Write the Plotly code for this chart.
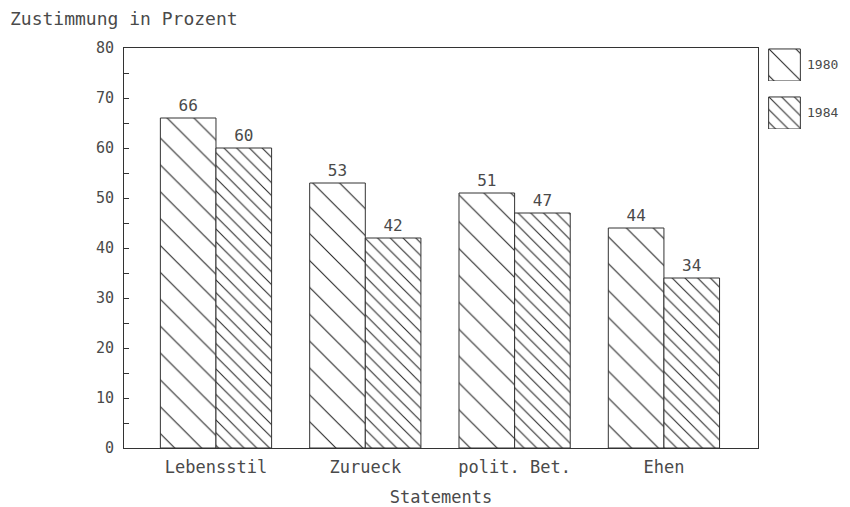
import plotly.graph_objects as go

categories = ["Lebensstil", "Zurueck", "polit. Bet.", "Ehen"]
series_names = ["1980", "1984"]
values_1980 = [66, 53, 51, 44]
values_1984 = [60, 42, 47, 34]
y_ticks = [0, 10, 20, 30, 40, 50, 60, 70, 80]

FONT = "DejaVu Sans Mono"
TXT = "#4a4a4a"
LINE = "#333333"

pat_1980 = dict(shape="\\", size=19, solidity=0.06, fgcolor="#2a2a2a", bgcolor="white", fillmode="replace")
pat_1984 = dict(shape="\\", size=9, solidity=0.12, fgcolor="#2a2a2a", bgcolor="white", fillmode="replace")

fig = go.Figure()
for name, vals, pat in [(series_names[0], values_1980, pat_1980), (series_names[1], values_1984, pat_1984)]:
    fig.add_trace(go.Bar(
        x=categories, y=vals, name=name, text=[str(v) for v in vals],
        textposition="outside", cliponaxis=False,
        textfont=dict(family=FONT, size=16, color=TXT),
        marker=dict(color="white", line=dict(color=LINE, width=1), pattern=pat),
        showlegend=False,
    ))

# legend swatches drawn as single bars in small axes
for i, (name, pat) in enumerate([(series_names[0], pat_1980), (series_names[1], pat_1984)]):
    ax = i + 2
    fig.add_trace(go.Bar(
        x=[0], y=[1], width=[1], xaxis=f"x{ax}", yaxis=f"y{ax}",
        marker=dict(color="white", line=dict(color=LINE, width=1), pattern=pat),
        showlegend=False, hoverinfo="skip",
    ))

OFF = 8  # page body margin
W, H = 850 - OFF, 507 - OFF
L, R, T, B = 124 - OFF, 4, 48 - OFF, 59
pw = W - L - R
ph = H - T - B

def px_x(p):
    return min(1.0, max(0.0, (p - OFF - L) / pw))

def px_y(p):
    return min(1.0, max(0.0, 1 - (p - OFF - T) / ph))

fig.update_layout(
    template="none",
    width=W, height=H,
    margin=dict(l=L, r=R, t=T, b=B, autoexpand=False),
    paper_bgcolor="white", plot_bgcolor="white",
    barmode="group", bargap=0.255, bargroupgap=0,
    font=dict(family=FONT, color=TXT),
    xaxis=dict(
        domain=[0, px_x(758)], range=[-0.616, 3.63], automargin=False,
        showline=True, linecolor=LINE, linewidth=1, mirror=True,
        ticks="", showgrid=False, zeroline=False, ticklabelstandoff=4,
        tickfont=dict(family=FONT, size=17, color=TXT),
        title=dict(text="Statements", font=dict(family=FONT, size=17, color=TXT), standoff=16),
    ),
    yaxis=dict(
        range=[0, 80], tickvals=y_ticks, automargin=False,
        showline=True, linecolor=LINE, linewidth=1, mirror=True,
        ticks="inside", ticklen=5, tickcolor=LINE, ticklabelstandoff=6,
        minor=dict(dtick=5, ticks="inside", ticklen=5, tickcolor=LINE),
        showgrid=False, zeroline=False,
        tickfont=dict(family=FONT, size=15, color=TXT),
    ),
    xaxis2=dict(domain=[px_x(768), px_x(801)], range=[-0.52, 0.52], anchor="y2", visible=False, fixedrange=True),
    yaxis2=dict(domain=[px_y(81), px_y(48)], range=[0, 1.03], anchor="x2", visible=False, fixedrange=True),
    xaxis3=dict(domain=[px_x(768), px_x(801)], range=[-0.52, 0.52], anchor="y3", visible=False, fixedrange=True),
    yaxis3=dict(domain=[px_y(129), px_y(96)], range=[0, 1.03], anchor="x3", visible=False, fixedrange=True),
)

fig.add_annotation(text="Zustimmung in Prozent", xref="paper", yref="paper",
                   x=(8 - OFF - L) / pw, y=1 - (19 - OFF - T) / ph, xanchor="left", yanchor="middle",
                   showarrow=False, font=dict(family=FONT, size=18, color=TXT))
for name, yc in [(series_names[0], 64), (series_names[1], 112)]:
    fig.add_annotation(text=name, xref="paper", yref="paper",
                       x=px_x(805), y=px_y(yc), xanchor="left", yanchor="middle",
                       showarrow=False, font=dict(family=FONT, size=13, color=TXT))

fig.write_html("out.html")
